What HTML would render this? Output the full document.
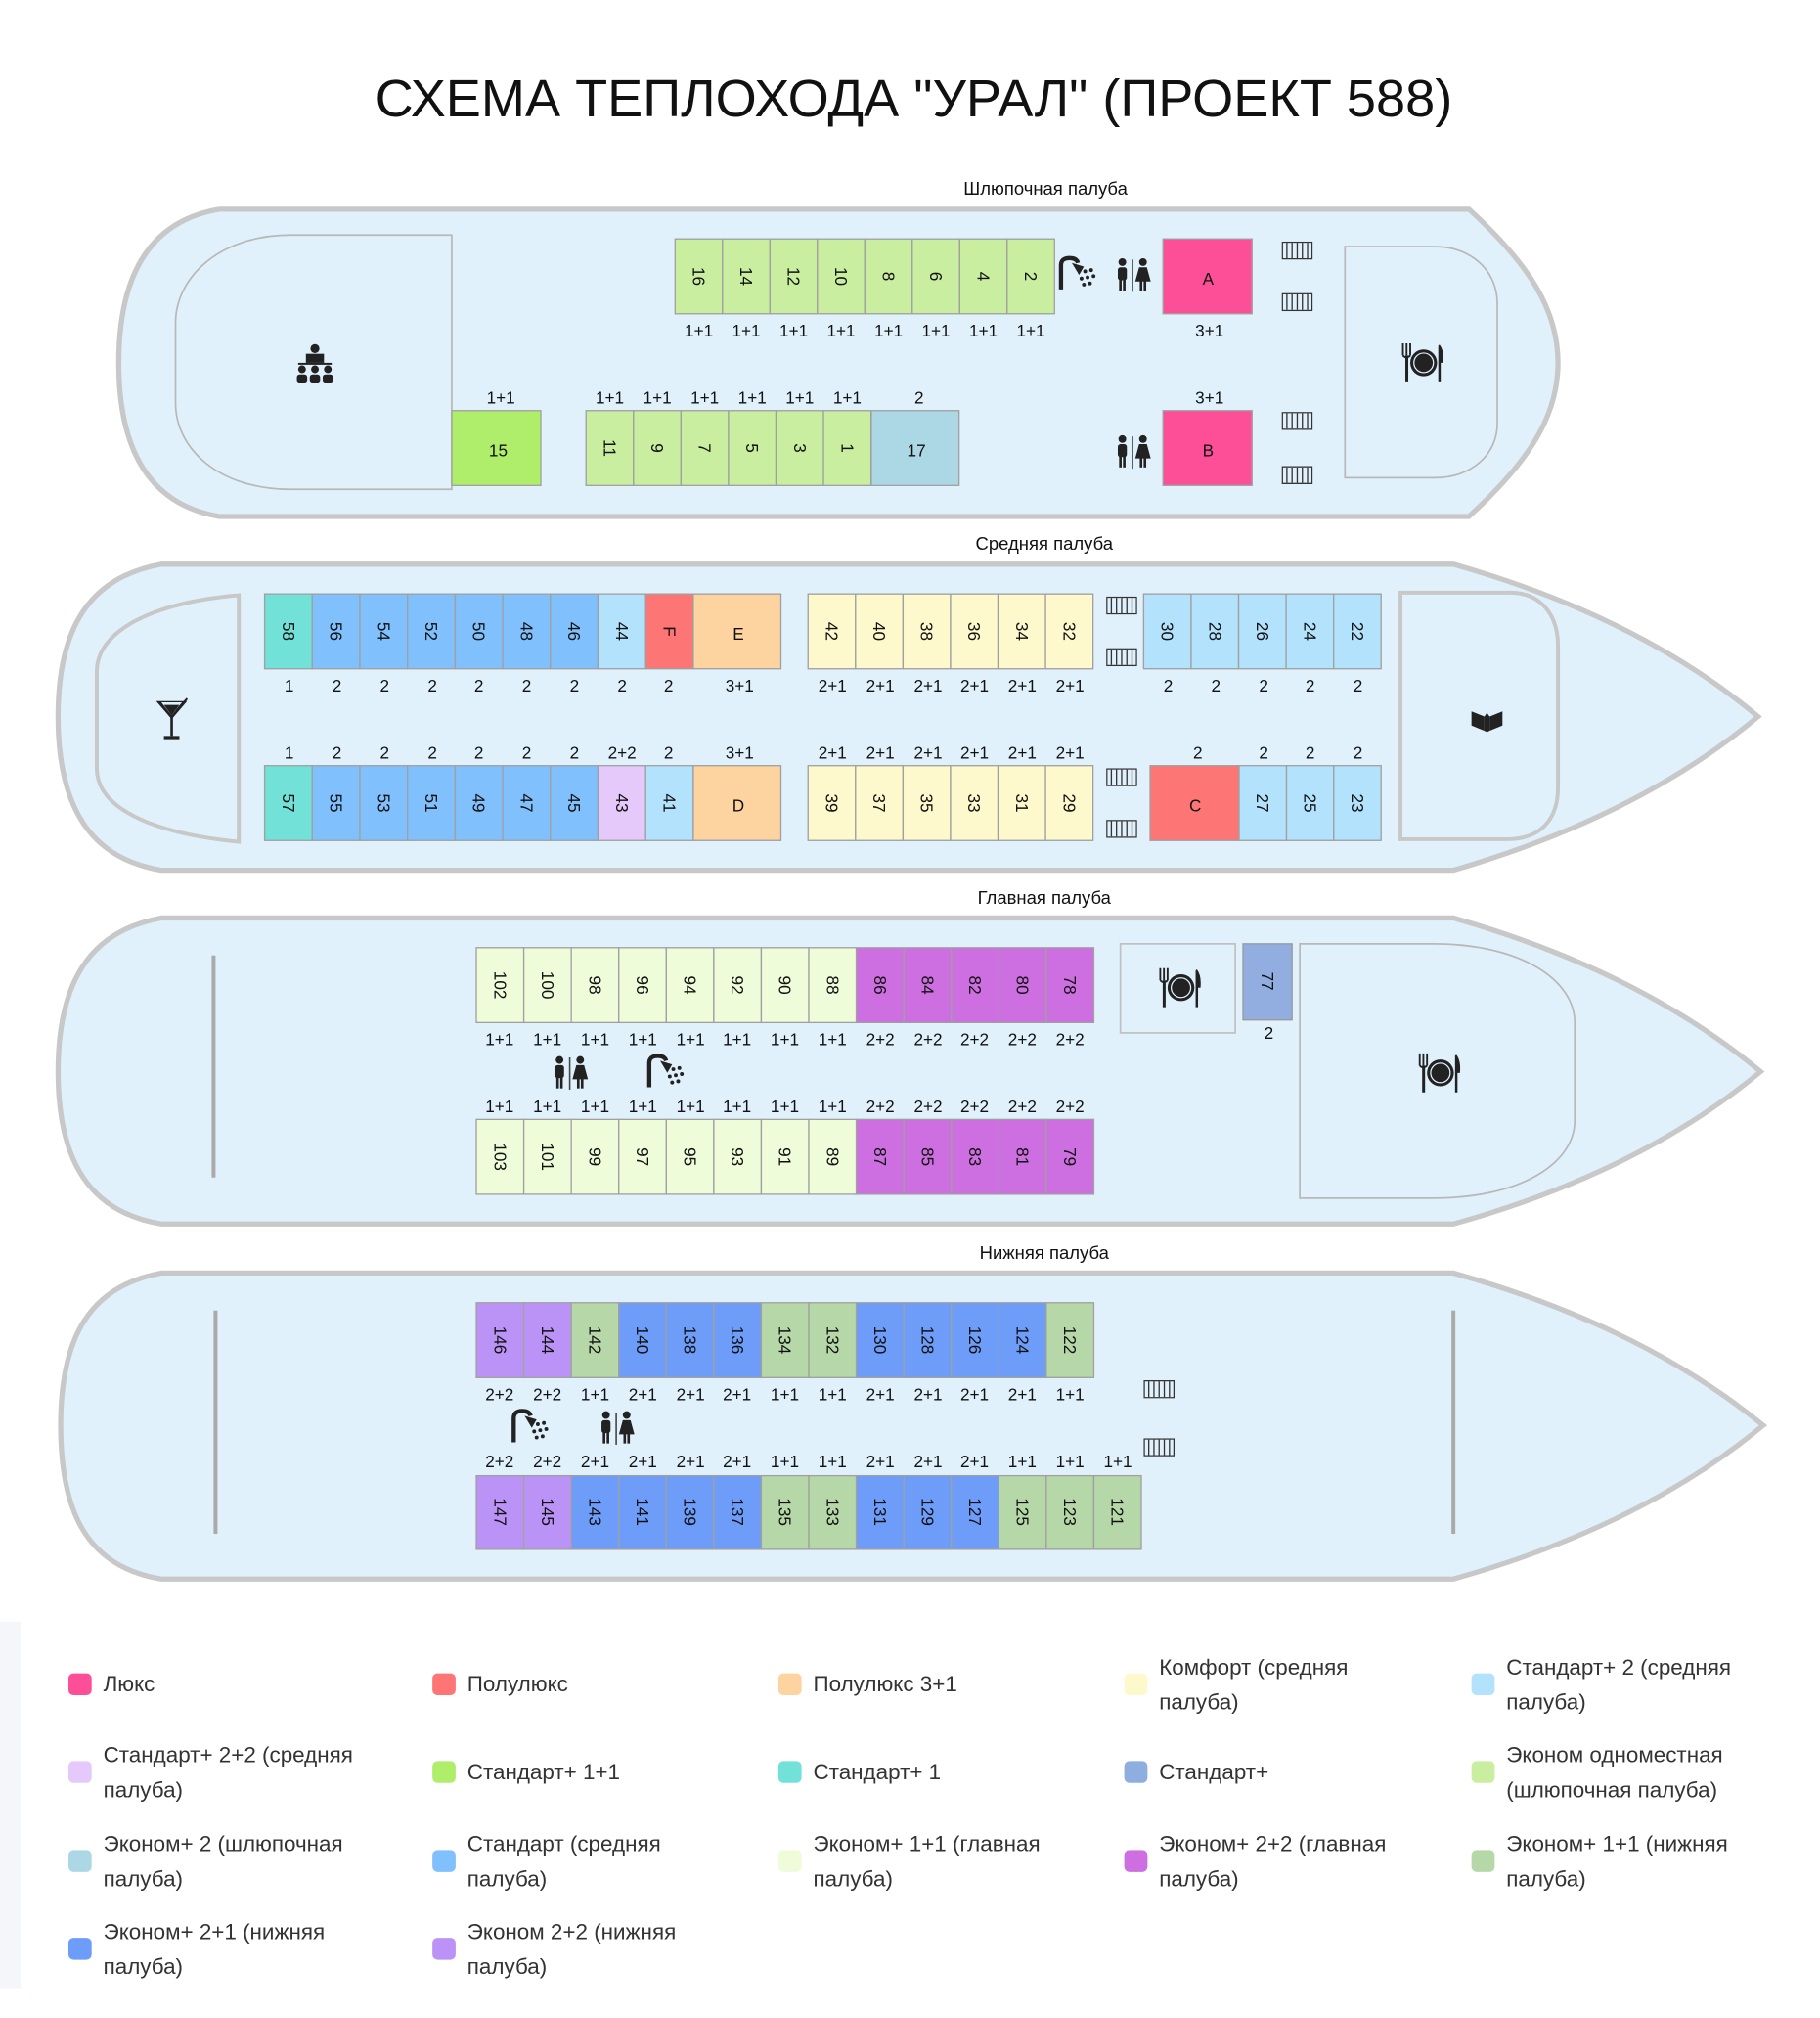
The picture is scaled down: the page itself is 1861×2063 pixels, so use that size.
<!DOCTYPE html>
<html><head><meta charset="utf-8"><style>
html,body{margin:0;padding:0;background:#fff;}
svg{display:block;}
text{font-family:"Liberation Sans",sans-serif;fill:#111;}
.n{font-size:13px;text-anchor:middle;dominant-baseline:central;}
.l{font-size:13px;text-anchor:middle;dominant-baseline:central;}
.c rect{stroke:#a0a0a0;stroke-width:1;}
.hull{fill:#e0f1fc;stroke:#c8c8c8;stroke-width:4;}
.room{fill:none;stroke:#b8b8b8;stroke-width:1.3;}
.lg{font-size:17px;fill:#333;}
</style></head><body>
<svg width="1861" height="2063" viewBox="0 0 1410 1563" xmlns="http://www.w3.org/2000/svg">
<defs>
<symbol id="st" viewBox="0 0 24 14"><rect x="0.5" y="0.5" width="23" height="13" fill="none" stroke="#333" stroke-width="1"/><path d="M4 1V13M8 1V13M12 1V13M16 1V13M20 1V13" stroke="#333" stroke-width="1"/></symbol>
<symbol id="wc" viewBox="0 0 30 28"><circle cx="7" cy="4" r="3" fill="#222"/><rect x="3.5" y="8" width="7" height="10" rx="2" fill="#222"/><rect x="4.5" y="16" width="2" height="10" fill="#222"/><rect x="7.5" y="16" width="2" height="10" fill="#222"/><rect x="14.3" y="2" width="1.2" height="25" fill="#444"/><circle cx="23" cy="4" r="3" fill="#222"/><path d="M20 8H26L29 19H17Z" fill="#222"/><rect x="20.5" y="18" width="2" height="8" fill="#222"/><rect x="23.5" y="18" width="2" height="8" fill="#222"/></symbol>
<symbol id="sh" viewBox="0 0 36 30"><path d="M3 28V8Q3 2 10 2Q16 2 17 6" fill="none" stroke="#222" stroke-width="3.5"/><path d="M12 6L22 9L18 16Z" fill="#222"/><circle cx="23" cy="13" r="1.6" fill="#222"/><circle cx="28" cy="12" r="1.6" fill="#222"/><circle cx="20" cy="19" r="1.6" fill="#222"/><circle cx="25" cy="18" r="1.6" fill="#222"/><circle cx="30" cy="17" r="1.6" fill="#222"/><circle cx="22" cy="24" r="1.6" fill="#222"/><circle cx="27" cy="23" r="1.6" fill="#222"/></symbol>
<symbol id="rs" viewBox="0 0 40 36"><path d="M4 2V12M7 2V12M10 2V12M4 12Q7 15 10 12" fill="none" stroke="#222" stroke-width="1.5"/><rect x="6" y="12" width="2.4" height="22" fill="#222"/><circle cx="21" cy="18" r="11" fill="#222"/><circle cx="21" cy="18" r="8" fill="none" stroke="#e0f1fc" stroke-width="1"/><path d="M34 3Q38 8 37 18H35V34H33V4Z" fill="#222"/></symbol>
</defs>

<text x="708" y="90" style="font-size:41px;text-anchor:middle;fill:#111">СХЕМА ТЕПЛОХОДА "УРАЛ" (ПРОЕКТ 588)</text>

<!-- DECK 1 -->
<text x="810" y="146" class="l" style="font-size:14px">Шлюпочная палуба</text>
<path class="hull" d="M170,162 H1138 C1185,205 1207,240 1207,281 C1207,322 1185,357 1138,400 H170 C110,390 92,340 92,281 C92,222 110,172 170,162 Z"/>
<path class="room" d="M350,182 H225 C170,182 136,215 136,250 V312 C136,348 170,379 225,379 H350 Z"/>
<path class="room" d="M1042,191 H1112 C1140,191 1160,210 1160,235 V328 C1160,352 1140,370 1112,370 H1042 Z"/>
<g transform="translate(228,266)"><circle cx="16" cy="4" r="3.5" fill="#222"/><rect x="9" y="8" width="14" height="7" fill="#222"/><rect x="3" y="15" width="26" height="1.5" fill="#222"/><circle cx="6" cy="20" r="3" fill="#222"/><circle cx="16" cy="20" r="3" fill="#222"/><circle cx="26" cy="20" r="3" fill="#222"/><rect x="2" y="24" width="8" height="7" rx="2" fill="#222"/><rect x="12" y="24" width="8" height="7" rx="2" fill="#222"/><rect x="22" y="24" width="8" height="7" rx="2" fill="#222"/></g>
<use href="#rs" x="1083" y="264" width="38" height="34"/>
<g class="c">
<rect x="523" y="185" width="36.75" height="58" fill="#c9eea0"/><rect x="559.75" y="185" width="36.75" height="58" fill="#c9eea0"/><rect x="596.5" y="185" width="36.75" height="58" fill="#c9eea0"/><rect x="633.25" y="185" width="36.75" height="58" fill="#c9eea0"/><rect x="670" y="185" width="36.75" height="58" fill="#c9eea0"/><rect x="706.75" y="185" width="36.75" height="58" fill="#c9eea0"/><rect x="743.5" y="185" width="36.75" height="58" fill="#c9eea0"/><rect x="780.25" y="185" width="36.75" height="58" fill="#c9eea0"/>
<rect x="901" y="185" width="69" height="58" fill="#fd4f97"/>
<rect x="350" y="318" width="69" height="58" fill="#aeee6a"/>
<rect x="454" y="318" width="36.8" height="58" fill="#c9eea0"/><rect x="490.8" y="318" width="36.8" height="58" fill="#c9eea0"/><rect x="527.6" y="318" width="36.8" height="58" fill="#c9eea0"/><rect x="564.4" y="318" width="36.8" height="58" fill="#c9eea0"/><rect x="601.2" y="318" width="36.8" height="58" fill="#c9eea0"/><rect x="638" y="318" width="36.8" height="58" fill="#c9eea0"/>
<rect x="675" y="318" width="68" height="58" fill="#acd8e6"/>
<rect x="901" y="318" width="69" height="58" fill="#fd4f97"/>
</g>
<text class="n" transform="translate(541.4,214) rotate(90)">16</text><text class="n" transform="translate(578.1,214) rotate(90)">14</text><text class="n" transform="translate(614.9,214) rotate(90)">12</text><text class="n" transform="translate(651.6,214) rotate(90)">10</text><text class="n" transform="translate(688.4,214) rotate(90)">8</text><text class="n" transform="translate(725.1,214) rotate(90)">6</text><text class="n" transform="translate(761.9,214) rotate(90)">4</text><text class="n" transform="translate(798.6,214) rotate(90)">2</text>
<text class="n" x="936" y="216">A</text><text class="n" x="936" y="349">B</text><text class="n" x="386" y="349">15</text><text class="n" x="710" y="349">17</text>
<text class="n" transform="translate(472.4,347) rotate(90)">11</text><text class="n" transform="translate(509.2,347) rotate(90)">9</text><text class="n" transform="translate(546,347) rotate(90)">7</text><text class="n" transform="translate(582.8,347) rotate(90)">5</text><text class="n" transform="translate(619.6,347) rotate(90)">3</text><text class="n" transform="translate(656.4,347) rotate(90)">1</text>
<text class="l" x="541.4" y="256">1+1</text><text class="l" x="578.1" y="256">1+1</text><text class="l" x="614.9" y="256">1+1</text><text class="l" x="651.6" y="256">1+1</text><text class="l" x="688.4" y="256">1+1</text><text class="l" x="725.1" y="256">1+1</text><text class="l" x="761.9" y="256">1+1</text><text class="l" x="798.6" y="256">1+1</text><text class="l" x="937" y="256">3+1</text>
<text class="l" x="388" y="308">1+1</text><text class="l" x="472.4" y="308">1+1</text><text class="l" x="509.2" y="308">1+1</text><text class="l" x="546" y="308">1+1</text><text class="l" x="582.8" y="308">1+1</text><text class="l" x="619.6" y="308">1+1</text><text class="l" x="656.4" y="308">1+1</text><text class="l" x="712" y="308">2</text><text class="l" x="937" y="308">3+1</text>
<use href="#sh" x="819" y="198" width="34" height="28"/>
<use href="#wc" x="862" y="199" width="31" height="28"/>
<use href="#wc" x="862" y="336" width="31" height="28"/>
<use href="#st" x="993" y="187" width="24" height="14"/><use href="#st" x="993" y="227" width="24" height="14"/><use href="#st" x="993" y="319" width="24" height="14"/><use href="#st" x="993" y="361" width="24" height="14"/>

<!-- DECK 2 -->
<text x="809" y="421" class="l" style="font-size:14px">Средняя палуба</text>
<path class="hull" d="M125,437 H1126 Q1270,478 1362,555 Q1270,632 1126,674 H125 C70,665 45,625 45,555 C45,485 70,447 125,437 Z"/>
<path class="room" style="stroke-width:3;stroke:#c8c8c8" d="M185,461 V652 C115,645 75,625 75,595 V520 C75,490 115,467 185,461 Z"/>
<path class="room" style="stroke-width:3;stroke:#c8c8c8" d="M1085,459 H1170 C1195,459 1207,478 1207,500 V610 C1207,635 1193,650 1168,650 H1085 Z"/>
<g transform="translate(121,541)"><path d="M0 2H24L12 16Z" fill="#222"/><path d="M4 3H20L12 13Z" fill="#e0f1fc"/><path d="M6 5H18L12 13Z" fill="#222"/><rect x="11" y="15" width="2" height="14" fill="#222"/><rect x="6" y="29" width="12" height="2.5" fill="#222"/><path d="M16 9L24 0" stroke="#222" stroke-width="1.5"/></g>
<g transform="translate(1140,549)"><path d="M0 2L10 6V17L0 13Z M24 2L14 6V17L24 13Z" fill="#222"/><path d="M10 6L12 3L14 6V17L12 18L10 17Z" fill="#222"/></g>
<g class="c">
<rect x="205" y="460" width="36.9" height="58" fill="#72e2d8"/>
<rect x="241.9" y="460" width="36.9" height="58" fill="#80c0fd"/><rect x="278.8" y="460" width="36.9" height="58" fill="#80c0fd"/><rect x="315.7" y="460" width="36.9" height="58" fill="#80c0fd"/><rect x="352.6" y="460" width="36.9" height="58" fill="#80c0fd"/><rect x="389.5" y="460" width="36.9" height="58" fill="#80c0fd"/><rect x="426.4" y="460" width="36.9" height="58" fill="#80c0fd"/>
<rect x="463.3" y="460" width="36.9" height="58" fill="#b3e2fd"/><rect x="500.2" y="460" width="36.9" height="58" fill="#fd7575"/><rect x="537.1" y="460" width="67.9" height="58" fill="#fdd3a0"/>
<rect x="626" y="460" width="36.8" height="58" fill="#fef9cd"/><rect x="662.8" y="460" width="36.8" height="58" fill="#fef9cd"/><rect x="699.6" y="460" width="36.8" height="58" fill="#fef9cd"/><rect x="736.4" y="460" width="36.8" height="58" fill="#fef9cd"/><rect x="773.2" y="460" width="36.8" height="58" fill="#fef9cd"/><rect x="810" y="460" width="36.8" height="58" fill="#fef9cd"/>
<rect x="886" y="460" width="36.8" height="58" fill="#b3e2fd"/><rect x="922.8" y="460" width="36.8" height="58" fill="#b3e2fd"/><rect x="959.6" y="460" width="36.8" height="58" fill="#b3e2fd"/><rect x="996.4" y="460" width="36.8" height="58" fill="#b3e2fd"/><rect x="1033.2" y="460" width="36.8" height="58" fill="#b3e2fd"/>
<rect x="205" y="593" width="36.9" height="58" fill="#72e2d8"/>
<rect x="241.9" y="593" width="36.9" height="58" fill="#80c0fd"/><rect x="278.8" y="593" width="36.9" height="58" fill="#80c0fd"/><rect x="315.7" y="593" width="36.9" height="58" fill="#80c0fd"/><rect x="352.6" y="593" width="36.9" height="58" fill="#80c0fd"/><rect x="389.5" y="593" width="36.9" height="58" fill="#80c0fd"/><rect x="426.4" y="593" width="36.9" height="58" fill="#80c0fd"/>
<rect x="463.3" y="593" width="36.9" height="58" fill="#e5c9fb"/><rect x="500.2" y="593" width="36.9" height="58" fill="#b3e2fd"/><rect x="537.1" y="593" width="67.9" height="58" fill="#fdd3a0"/>
<rect x="626" y="593" width="36.8" height="58" fill="#fef9cd"/><rect x="662.8" y="593" width="36.8" height="58" fill="#fef9cd"/><rect x="699.6" y="593" width="36.8" height="58" fill="#fef9cd"/><rect x="736.4" y="593" width="36.8" height="58" fill="#fef9cd"/><rect x="773.2" y="593" width="36.8" height="58" fill="#fef9cd"/><rect x="810" y="593" width="36.8" height="58" fill="#fef9cd"/>
<rect x="891" y="593" width="69" height="58" fill="#fd7575"/>
<rect x="960" y="593" width="36.7" height="58" fill="#b3e2fd"/><rect x="996.7" y="593" width="36.6" height="58" fill="#b3e2fd"/><rect x="1033.3" y="593" width="36.7" height="58" fill="#b3e2fd"/>
</g>
<text class="n" transform="translate(223.5,489) rotate(90)">58</text><text class="n" transform="translate(260.4,489) rotate(90)">56</text><text class="n" transform="translate(297.3,489) rotate(90)">54</text><text class="n" transform="translate(334.2,489) rotate(90)">52</text><text class="n" transform="translate(371,489) rotate(90)">50</text><text class="n" transform="translate(408,489) rotate(90)">48</text><text class="n" transform="translate(444.9,489) rotate(90)">46</text><text class="n" transform="translate(481.8,489) rotate(90)">44</text><text class="n" transform="translate(518.7,489) rotate(90)">F</text><text class="n" x="572" y="491">E</text>
<text class="n" transform="translate(644.4,489) rotate(90)">42</text><text class="n" transform="translate(681.2,489) rotate(90)">40</text><text class="n" transform="translate(718,489) rotate(90)">38</text><text class="n" transform="translate(754.8,489) rotate(90)">36</text><text class="n" transform="translate(791.6,489) rotate(90)">34</text><text class="n" transform="translate(828.4,489) rotate(90)">32</text>
<text class="n" transform="translate(904.4,489) rotate(90)">30</text><text class="n" transform="translate(941.2,489) rotate(90)">28</text><text class="n" transform="translate(978,489) rotate(90)">26</text><text class="n" transform="translate(1014.8,489) rotate(90)">24</text><text class="n" transform="translate(1051.6,489) rotate(90)">22</text>
<text class="n" transform="translate(223.5,622) rotate(90)">57</text><text class="n" transform="translate(260.4,622) rotate(90)">55</text><text class="n" transform="translate(297.3,622) rotate(90)">53</text><text class="n" transform="translate(334.2,622) rotate(90)">51</text><text class="n" transform="translate(371,622) rotate(90)">49</text><text class="n" transform="translate(408,622) rotate(90)">47</text><text class="n" transform="translate(444.9,622) rotate(90)">45</text><text class="n" transform="translate(481.8,622) rotate(90)">43</text><text class="n" transform="translate(518.7,622) rotate(90)">41</text><text class="n" x="572" y="624">D</text>
<text class="n" transform="translate(644.4,622) rotate(90)">39</text><text class="n" transform="translate(681.2,622) rotate(90)">37</text><text class="n" transform="translate(718,622) rotate(90)">35</text><text class="n" transform="translate(754.8,622) rotate(90)">33</text><text class="n" transform="translate(791.6,622) rotate(90)">31</text><text class="n" transform="translate(828.4,622) rotate(90)">29</text>
<text class="n" x="926" y="624">C</text><text class="n" transform="translate(978.3,622) rotate(90)">27</text><text class="n" transform="translate(1015,622) rotate(90)">25</text><text class="n" transform="translate(1051.7,622) rotate(90)">23</text>
<text class="l" x="224" y="531">1</text><text class="l" x="261" y="531">2</text><text class="l" x="298" y="531">2</text><text class="l" x="335" y="531">2</text><text class="l" x="371" y="531">2</text><text class="l" x="408" y="531">2</text><text class="l" x="445" y="531">2</text><text class="l" x="482" y="531">2</text><text class="l" x="518" y="531">2</text><text class="l" x="573" y="531">3+1</text>
<text class="l" x="645" y="531">2+1</text><text class="l" x="682" y="531">2+1</text><text class="l" x="719" y="531">2+1</text><text class="l" x="755" y="531">2+1</text><text class="l" x="792" y="531">2+1</text><text class="l" x="829" y="531">2+1</text>
<text class="l" x="905" y="531">2</text><text class="l" x="942" y="531">2</text><text class="l" x="979" y="531">2</text><text class="l" x="1015" y="531">2</text><text class="l" x="1052" y="531">2</text>
<text class="l" x="224" y="583">1</text><text class="l" x="261" y="583">2</text><text class="l" x="298" y="583">2</text><text class="l" x="335" y="583">2</text><text class="l" x="371" y="583">2</text><text class="l" x="408" y="583">2</text><text class="l" x="445" y="583">2</text><text class="l" x="482" y="583">2+2</text><text class="l" x="518" y="583">2</text><text class="l" x="573" y="583">3+1</text>
<text class="l" x="645" y="583">2+1</text><text class="l" x="682" y="583">2+1</text><text class="l" x="719" y="583">2+1</text><text class="l" x="755" y="583">2+1</text><text class="l" x="792" y="583">2+1</text><text class="l" x="829" y="583">2+1</text>
<text class="l" x="928" y="583">2</text><text class="l" x="979" y="583">2</text><text class="l" x="1015" y="583">2</text><text class="l" x="1052" y="583">2</text>
<use href="#st" x="857" y="462" width="24" height="14"/><use href="#st" x="857" y="502" width="24" height="14"/><use href="#st" x="857" y="595" width="24" height="14"/><use href="#st" x="857" y="635" width="24" height="14"/>

<!-- DECK 3 -->
<text x="809" y="695" class="l" style="font-size:14px">Главная палуба</text>
<path class="hull" d="M125,711 H1126 Q1270,752 1364,830 Q1270,908 1126,948 H125 C70,939 45,900 45,830 C45,760 70,721 125,711 Z"/>
<rect x="164" y="740" width="3" height="172" fill="#aaa"/>
<rect x="868" y="731" width="89" height="69" fill="none" stroke="#c0c0c0" stroke-width="1.3"/>
<use href="#rs" x="895" y="748" width="38" height="34"/>
<path class="room" d="M1007,731 H1110 C1180,731 1220,760 1220,792 V868 C1220,900 1180,928 1110,928 H1007 Z"/>
<use href="#rs" x="1096" y="814" width="38" height="34"/>
<g class="c">
<rect x="369" y="734" width="36.8" height="58" fill="#effcd9"/><rect x="405.8" y="734" width="36.8" height="58" fill="#effcd9"/><rect x="442.6" y="734" width="36.8" height="58" fill="#effcd9"/><rect x="479.4" y="734" width="36.8" height="58" fill="#effcd9"/><rect x="516.2" y="734" width="36.8" height="58" fill="#effcd9"/><rect x="553" y="734" width="36.8" height="58" fill="#effcd9"/><rect x="589.8" y="734" width="36.8" height="58" fill="#effcd9"/><rect x="626.6" y="734" width="36.8" height="58" fill="#effcd9"/>
<rect x="663.4" y="734" width="36.8" height="58" fill="#cd6fe0"/><rect x="700.2" y="734" width="36.8" height="58" fill="#cd6fe0"/><rect x="737" y="734" width="36.8" height="58" fill="#cd6fe0"/><rect x="773.8" y="734" width="36.8" height="58" fill="#cd6fe0"/><rect x="810.6" y="734" width="36.8" height="58" fill="#cd6fe0"/>
<rect x="369" y="867" width="36.8" height="58" fill="#effcd9"/><rect x="405.8" y="867" width="36.8" height="58" fill="#effcd9"/><rect x="442.6" y="867" width="36.8" height="58" fill="#effcd9"/><rect x="479.4" y="867" width="36.8" height="58" fill="#effcd9"/><rect x="516.2" y="867" width="36.8" height="58" fill="#effcd9"/><rect x="553" y="867" width="36.8" height="58" fill="#effcd9"/><rect x="589.8" y="867" width="36.8" height="58" fill="#effcd9"/><rect x="626.6" y="867" width="36.8" height="58" fill="#effcd9"/>
<rect x="663.4" y="867" width="36.8" height="58" fill="#cd6fe0"/><rect x="700.2" y="867" width="36.8" height="58" fill="#cd6fe0"/><rect x="737" y="867" width="36.8" height="58" fill="#cd6fe0"/><rect x="773.8" y="867" width="36.8" height="58" fill="#cd6fe0"/><rect x="810.6" y="867" width="36.8" height="58" fill="#cd6fe0"/>
<rect x="963" y="731" width="38" height="59" fill="#92aee0" style="stroke:#999"/>
</g>
<text class="n" transform="translate(387.4,763) rotate(90)">102</text><text class="n" transform="translate(424.2,763) rotate(90)">100</text><text class="n" transform="translate(461,763) rotate(90)">98</text><text class="n" transform="translate(497.8,763) rotate(90)">96</text><text class="n" transform="translate(534.6,763) rotate(90)">94</text><text class="n" transform="translate(571.4,763) rotate(90)">92</text><text class="n" transform="translate(608.2,763) rotate(90)">90</text><text class="n" transform="translate(645,763) rotate(90)">88</text><text class="n" transform="translate(681.8,763) rotate(90)">86</text><text class="n" transform="translate(718.6,763) rotate(90)">84</text><text class="n" transform="translate(755.4,763) rotate(90)">82</text><text class="n" transform="translate(792.2,763) rotate(90)">80</text><text class="n" transform="translate(829,763) rotate(90)">78</text>
<text class="n" transform="translate(387.4,896) rotate(90)">103</text><text class="n" transform="translate(424.2,896) rotate(90)">101</text><text class="n" transform="translate(461,896) rotate(90)">99</text><text class="n" transform="translate(497.8,896) rotate(90)">97</text><text class="n" transform="translate(534.6,896) rotate(90)">95</text><text class="n" transform="translate(571.4,896) rotate(90)">93</text><text class="n" transform="translate(608.2,896) rotate(90)">91</text><text class="n" transform="translate(645,896) rotate(90)">89</text><text class="n" transform="translate(681.8,896) rotate(90)">87</text><text class="n" transform="translate(718.6,896) rotate(90)">85</text><text class="n" transform="translate(755.4,896) rotate(90)">83</text><text class="n" transform="translate(792.2,896) rotate(90)">81</text><text class="n" transform="translate(829,896) rotate(90)">79</text>
<text class="n" transform="translate(982,760) rotate(90)">77</text><text class="l" x="983" y="800">2</text>
<text class="l" x="387" y="805">1+1</text><text class="l" x="424" y="805">1+1</text><text class="l" x="461" y="805">1+1</text><text class="l" x="498" y="805">1+1</text><text class="l" x="535" y="805">1+1</text><text class="l" x="571" y="805">1+1</text><text class="l" x="608" y="805">1+1</text><text class="l" x="645" y="805">1+1</text><text class="l" x="682" y="805">2+2</text><text class="l" x="719" y="805">2+2</text><text class="l" x="755" y="805">2+2</text><text class="l" x="792" y="805">2+2</text><text class="l" x="829" y="805">2+2</text>
<text class="l" x="387" y="857">1+1</text><text class="l" x="424" y="857">1+1</text><text class="l" x="461" y="857">1+1</text><text class="l" x="498" y="857">1+1</text><text class="l" x="535" y="857">1+1</text><text class="l" x="571" y="857">1+1</text><text class="l" x="608" y="857">1+1</text><text class="l" x="645" y="857">1+1</text><text class="l" x="682" y="857">2+2</text><text class="l" x="719" y="857">2+2</text><text class="l" x="755" y="857">2+2</text><text class="l" x="792" y="857">2+2</text><text class="l" x="829" y="857">2+2</text>
<use href="#wc" x="426" y="817" width="31" height="28"/>
<use href="#sh" x="500" y="816" width="34" height="28"/>

<!-- DECK 4 -->
<text x="809" y="970" class="l" style="font-size:14px">Нижняя палуба</text>
<path class="hull" d="M125,986 H1126 Q1272,1027 1366,1104 Q1272,1182 1126,1223 H125 C70,1214 47,1175 47,1104 C47,1035 70,996 125,986 Z"/>
<rect x="165.5" y="1015" width="3" height="173" fill="#aaa"/>
<rect x="1124.5" y="1015" width="3" height="173" fill="#aaa"/>
<g class="c">
<rect x="369" y="1009" width="36.8" height="58" fill="#bb93f6"/><rect x="405.8" y="1009" width="36.8" height="58" fill="#bb93f6"/><rect x="442.6" y="1009" width="36.8" height="58" fill="#b6d8a8"/><rect x="479.4" y="1009" width="36.8" height="58" fill="#6e9cf9"/><rect x="516.2" y="1009" width="36.8" height="58" fill="#6e9cf9"/><rect x="553" y="1009" width="36.8" height="58" fill="#6e9cf9"/><rect x="589.8" y="1009" width="36.8" height="58" fill="#b6d8a8"/><rect x="626.6" y="1009" width="36.8" height="58" fill="#b6d8a8"/><rect x="663.4" y="1009" width="36.8" height="58" fill="#6e9cf9"/><rect x="700.2" y="1009" width="36.8" height="58" fill="#6e9cf9"/><rect x="737" y="1009" width="36.8" height="58" fill="#6e9cf9"/><rect x="773.8" y="1009" width="36.8" height="58" fill="#6e9cf9"/><rect x="810.6" y="1009" width="36.8" height="58" fill="#b6d8a8"/>
<rect x="369" y="1143" width="36.8" height="57" fill="#bb93f6"/><rect x="405.8" y="1143" width="36.8" height="57" fill="#bb93f6"/><rect x="442.6" y="1143" width="36.8" height="57" fill="#6e9cf9"/><rect x="479.4" y="1143" width="36.8" height="57" fill="#6e9cf9"/><rect x="516.2" y="1143" width="36.8" height="57" fill="#6e9cf9"/><rect x="553" y="1143" width="36.8" height="57" fill="#6e9cf9"/><rect x="589.8" y="1143" width="36.8" height="57" fill="#b6d8a8"/><rect x="626.6" y="1143" width="36.8" height="57" fill="#b6d8a8"/><rect x="663.4" y="1143" width="36.8" height="57" fill="#6e9cf9"/><rect x="700.2" y="1143" width="36.8" height="57" fill="#6e9cf9"/><rect x="737" y="1143" width="36.8" height="57" fill="#6e9cf9"/><rect x="773.8" y="1143" width="36.8" height="57" fill="#b6d8a8"/><rect x="810.6" y="1143" width="36.8" height="57" fill="#b6d8a8"/><rect x="847.4" y="1143" width="36.8" height="57" fill="#b6d8a8"/>
</g>
<text class="n" transform="translate(387.4,1038) rotate(90)">146</text><text class="n" transform="translate(424.2,1038) rotate(90)">144</text><text class="n" transform="translate(461,1038) rotate(90)">142</text><text class="n" transform="translate(497.8,1038) rotate(90)">140</text><text class="n" transform="translate(534.6,1038) rotate(90)">138</text><text class="n" transform="translate(571.4,1038) rotate(90)">136</text><text class="n" transform="translate(608.2,1038) rotate(90)">134</text><text class="n" transform="translate(645,1038) rotate(90)">132</text><text class="n" transform="translate(681.8,1038) rotate(90)">130</text><text class="n" transform="translate(718.6,1038) rotate(90)">128</text><text class="n" transform="translate(755.4,1038) rotate(90)">126</text><text class="n" transform="translate(792.2,1038) rotate(90)">124</text><text class="n" transform="translate(829,1038) rotate(90)">122</text>
<text class="n" transform="translate(387.4,1171) rotate(90)">147</text><text class="n" transform="translate(424.2,1171) rotate(90)">145</text><text class="n" transform="translate(461,1171) rotate(90)">143</text><text class="n" transform="translate(497.8,1171) rotate(90)">141</text><text class="n" transform="translate(534.6,1171) rotate(90)">139</text><text class="n" transform="translate(571.4,1171) rotate(90)">137</text><text class="n" transform="translate(608.2,1171) rotate(90)">135</text><text class="n" transform="translate(645,1171) rotate(90)">133</text><text class="n" transform="translate(681.8,1171) rotate(90)">131</text><text class="n" transform="translate(718.6,1171) rotate(90)">129</text><text class="n" transform="translate(755.4,1171) rotate(90)">127</text><text class="n" transform="translate(792.2,1171) rotate(90)">125</text><text class="n" transform="translate(829,1171) rotate(90)">123</text><text class="n" transform="translate(865.8,1171) rotate(90)">121</text>
<text class="l" x="387" y="1080">2+2</text><text class="l" x="424" y="1080">2+2</text><text class="l" x="461" y="1080">1+1</text><text class="l" x="498" y="1080">2+1</text><text class="l" x="535" y="1080">2+1</text><text class="l" x="571" y="1080">2+1</text><text class="l" x="608" y="1080">1+1</text><text class="l" x="645" y="1080">1+1</text><text class="l" x="682" y="1080">2+1</text><text class="l" x="719" y="1080">2+1</text><text class="l" x="755" y="1080">2+1</text><text class="l" x="792" y="1080">2+1</text><text class="l" x="829" y="1080">1+1</text>
<text class="l" x="387" y="1132">2+2</text><text class="l" x="424" y="1132">2+2</text><text class="l" x="461" y="1132">2+1</text><text class="l" x="498" y="1132">2+1</text><text class="l" x="535" y="1132">2+1</text><text class="l" x="571" y="1132">2+1</text><text class="l" x="608" y="1132">1+1</text><text class="l" x="645" y="1132">1+1</text><text class="l" x="682" y="1132">2+1</text><text class="l" x="719" y="1132">2+1</text><text class="l" x="755" y="1132">2+1</text><text class="l" x="792" y="1132">1+1</text><text class="l" x="829" y="1132">1+1</text><text class="l" x="866" y="1132">1+1</text>
<use href="#sh" x="395" y="1091" width="34" height="28"/>
<use href="#wc" x="462" y="1092" width="31" height="28"/>
<use href="#st" x="886" y="1069" width="24" height="14"/><use href="#st" x="886" y="1114" width="24" height="14"/>

<!-- LEGEND -->
<rect x="0" y="1256" width="16" height="284" fill="#f5f6fa"/>
<g>
<rect x="53" y="1296" width="18" height="17" rx="4" fill="#fd4f97"/><text class="lg" x="80" y="1310">Люкс</text>
<rect x="335" y="1296" width="18" height="17" rx="4" fill="#fd7575"/><text class="lg" x="362" y="1310">Полулюкс</text>
<rect x="603" y="1296" width="18" height="17" rx="4" fill="#fdd3a0"/><text class="lg" x="630" y="1310">Полулюкс 3+1</text>
<rect x="871" y="1296" width="18" height="17" rx="4" fill="#fef9cd"/><text class="lg" x="898" y="1297">Комфорт (средняя</text><text class="lg" x="898" y="1324">палуба)</text>
<rect x="1140" y="1296" width="18" height="17" rx="4" fill="#b3e2fd"/><text class="lg" x="1167" y="1297">Стандарт+ 2 (средняя</text><text class="lg" x="1167" y="1324">палуба)</text>

<rect x="53" y="1364" width="18" height="17" rx="4" fill="#e5c9fb"/><text class="lg" x="80" y="1365">Стандарт+ 2+2 (средняя</text><text class="lg" x="80" y="1392">палуба)</text>
<rect x="335" y="1364" width="18" height="17" rx="4" fill="#aeee6a"/><text class="lg" x="362" y="1378">Стандарт+ 1+1</text>
<rect x="603" y="1364" width="18" height="17" rx="4" fill="#72e2d8"/><text class="lg" x="630" y="1378">Стандарт+ 1</text>
<rect x="871" y="1364" width="18" height="17" rx="4" fill="#8eaee0"/><text class="lg" x="898" y="1378">Стандарт+</text>
<rect x="1140" y="1364" width="18" height="17" rx="4" fill="#c9eea0"/><text class="lg" x="1167" y="1365">Эконом одноместная</text><text class="lg" x="1167" y="1392">(шлюпочная палуба)</text>

<rect x="53" y="1433" width="18" height="17" rx="4" fill="#acd8e6"/><text class="lg" x="80" y="1434">Эконом+ 2 (шлюпочная</text><text class="lg" x="80" y="1461">палуба)</text>
<rect x="335" y="1433" width="18" height="17" rx="4" fill="#80c0fd"/><text class="lg" x="362" y="1434">Стандарт (средняя</text><text class="lg" x="362" y="1461">палуба)</text>
<rect x="603" y="1433" width="18" height="17" rx="4" fill="#effcd9"/><text class="lg" x="630" y="1434">Эконом+ 1+1 (главная</text><text class="lg" x="630" y="1461">палуба)</text>
<rect x="871" y="1433" width="18" height="17" rx="4" fill="#cd6fe0"/><text class="lg" x="898" y="1434">Эконом+ 2+2 (главная</text><text class="lg" x="898" y="1461">палуба)</text>
<rect x="1140" y="1433" width="18" height="17" rx="4" fill="#b6d8a8"/><text class="lg" x="1167" y="1434">Эконом+ 1+1 (нижняя</text><text class="lg" x="1167" y="1461">палуба)</text>

<rect x="53" y="1501" width="18" height="17" rx="4" fill="#6e9cf9"/><text class="lg" x="80" y="1502">Эконом+ 2+1 (нижняя</text><text class="lg" x="80" y="1529">палуба)</text>
<rect x="335" y="1501" width="18" height="17" rx="4" fill="#bb93f6"/><text class="lg" x="362" y="1502">Эконом 2+2 (нижняя</text><text class="lg" x="362" y="1529">палуба)</text>
</g>
</svg>
</body></html>
